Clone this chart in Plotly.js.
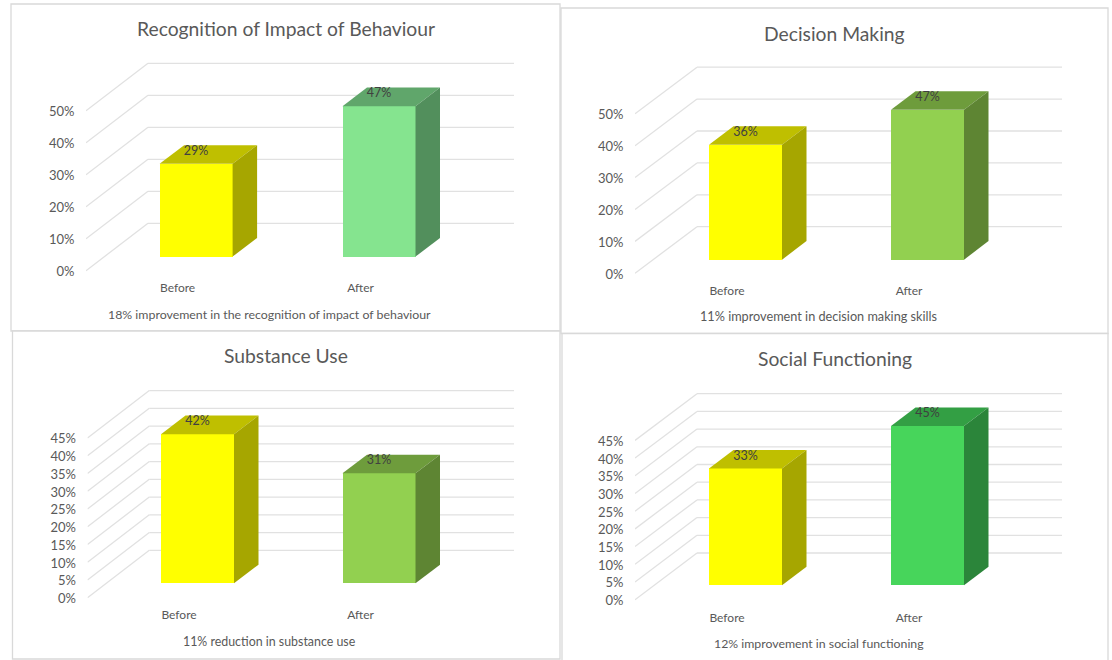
<!DOCTYPE html>
<html>
<head>
<meta charset="utf-8">
<script src="https://cdn.plot.ly/plotly-3.0.1.min.js"></script>
<style>html,body{margin:0;padding:0;background:#fff}#chart{width:1112px;height:660px}</style>
</head>
<body>
<div id="chart"></div>
<script>
const categories = ['Before', 'After'];
const recognitionValues = [29, 47];
const decisionValues = [36, 47];
const substanceValues = [42, 31];
const socialValues = [33, 45];
const ticksByTen = [0, 10, 20, 30, 40, 50];
const ticksByFive = [0, 5, 10, 15, 20, 25, 30, 35, 40, 45];
const titles = ['Recognition of Impact of Behaviour', 'Decision Making', 'Substance Use', 'Social Functioning'];
const captions = [
  '18% improvement in the recognition of impact of behaviour',
  '11% improvement in decision making skills',
  '11% reduction in substance use',
  '12% improvement in social functioning'
];

const W = 1112, H = 660;
const yellow = {front: '#FFFF00', top: '#BFBF00', side: '#A6A600'};
const mint = {front: '#85E48F', top: '#60A66B', side: '#528F5C'};
const leaf = {front: '#92D050', top: '#6E9C3C', side: '#5E8533'};
const emerald = {front: '#47D55B', top: '#339F44', side: '#2B853A'};

const panels = [
  {values: recognitionValues, ticks: ticksByTen, colors: [yellow, mint],
   frame: [11, 4, 560, 331], frontX: 86, backX: 148, endX: 514, frontY: 270.7, backY: 223.3, scale: 3.2,
   barLeft: [159.6, 342.5], barBottom: 256.6, labelY: 288, titleXY: [286, 28.5], capXY: [269, 314], capSize: 12.35},
  {values: decisionValues, ticks: ticksByTen, colors: [yellow, leaf],
   frame: [561, 8, 1108, 333.5], frontX: 635, backX: 697, endX: 1062, frontY: 273.3, backY: 226.7, scale: 3.19,
   barLeft: [709, 891], barBottom: 259.7, labelY: 291, titleXY: [834, 33], capXY: [818, 316.5], capSize: 12.7},
  {values: substanceValues, ticks: ticksByFive, colors: [yellow, leaf],
   frame: [12.5, 331, 560, 659], frontX: 87.5, backX: 149.3, endX: 514, frontY: 597.7, backY: 550.3, scale: 3.55,
   barLeft: [161, 342.5], barBottom: 583.3, labelY: 615, titleXY: [285.5, 355.5], capXY: [269.5, 641.5], capSize: 12.4},
  {values: socialValues, ticks: ticksByFive, colors: [yellow, emerald],
   frame: [562, 333.5, 1108, 664], frontX: 635, backX: 697, endX: 1062, frontY: 599.7, backY: 553, scale: 3.54,
   barLeft: [709, 891], barBottom: 585.3, labelY: 617.5, titleXY: [835, 358.5], capXY: [819, 643.5], capSize: 12.3}
];

const barWidthPx = 73, depthX = 24.5, depthY = 18.6, labelShiftX = 18.5, labelLift = 12, axisPad = 4;
const fontFamily = 'Lato, "Noto Sans", sans-serif';
const textGrey = '#595959', gridGrey = '#E1E1E1';

const traces = [], shapes = [], annotations = [];
const layout = {
  width: W, height: H, autosize: false, showlegend: false,
  margin: {l: 0, r: 0, t: 0, b: 0},
  paper_bgcolor: '#fff', plot_bgcolor: 'rgba(0,0,0,0)',
  font: {family: fontFamily, color: textGrey},
  bargap: 0, barmode: 'overlay', hovermode: false
};

panels.forEach((p, n) => {
  const id = n === 0 ? '' : String(n + 1);
  const xa = 'x' + id, ya = 'y' + id;
  const centers = p.barLeft.map(l => l + barWidthPx / 2);
  const unit = centers[1] - centers[0];
  const toX = px => (px - centers[0]) / unit;
  const toY = px => (p.barBottom - px) / p.scale;
  const topPx = p.backY - p.scale * p.ticks[p.ticks.length - 1] - 2;
  const bottomPx = p.frontY + axisPad;
  const vFront = toY(p.frontY), vBack = toY(p.backY);
  const dx = depthX / unit, dy = depthY / p.scale, half = barWidthPx / unit / 2;

  layout['xaxis' + id] = {
    domain: [p.frontX / W, p.endX / W], range: [toX(p.frontX), toX(p.endX)],
    anchor: ya, showgrid: false, zeroline: false, showline: false,
    tickmode: 'array', tickvals: categories.map((c, i) => i - labelShiftX / unit), ticktext: categories,
    ticks: 'outside', ticklen: p.labelY - bottomPx - 11, tickcolor: 'rgba(0,0,0,0)',
    tickfont: {family: fontFamily, size: 12, color: textGrey}, fixedrange: true
  };
  layout['yaxis' + id] = {
    domain: [1 - bottomPx / H, 1 - topPx / H], range: [toY(bottomPx), toY(topPx)],
    anchor: xa, showgrid: false, zeroline: false, showline: false,
    tickmode: 'array', tickvals: p.ticks.map(t => t + vFront - 0.25), ticktext: p.ticks.map(t => t + '%'),
    ticks: 'outside', ticklen: 8, tickcolor: 'rgba(0,0,0,0)',
    tickfont: {family: fontFamily, size: 13, color: textGrey}, fixedrange: true
  };

  p.ticks.forEach(t => {
    shapes.push({type: 'line', layer: 'below', xref: xa, yref: ya,
      x0: toX(p.backX), x1: toX(p.endX), y0: t + vBack, y1: t + vBack,
      line: {color: gridGrey, width: 1.3}});
    shapes.push({type: 'line', layer: 'below', xref: xa, yref: ya,
      x0: toX(p.frontX), x1: toX(p.backX), y0: t + vFront, y1: t + vBack,
      line: {color: gridGrey, width: 1.3}});
  });

  shapes.push({type: 'rect', layer: 'below', xref: 'paper', yref: 'paper',
    x0: p.frame[0] / W, x1: p.frame[2] / W, y0: 1 - p.frame[3] / H, y1: 1 - p.frame[1] / H,
    line: {color: '#D9D9D9', width: 1.3}, fillcolor: '#FFFFFF'});

  traces.push({type: 'bar', x: [0, 1], y: p.values, width: barWidthPx / unit, xaxis: xa, yaxis: ya,
    marker: {color: p.colors.map(c => c.front), line: {width: 0}}, hoverinfo: 'skip'});

  p.values.forEach((v, i) => {
    const l = i - half, r = i + half;
    traces.push({type: 'scatter', mode: 'lines', fill: 'toself', xaxis: xa, yaxis: ya,
      x: [l, r, r + dx, l + dx, l], y: [v, v, v + dy, v + dy, v],
      fillcolor: p.colors[i].top, line: {width: 0, color: p.colors[i].top}, hoverinfo: 'skip'});
    traces.push({type: 'scatter', mode: 'lines', fill: 'toself', xaxis: xa, yaxis: ya,
      x: [r, r + dx, r + dx, r, r], y: [0, dy, v + dy, v, 0],
      fillcolor: p.colors[i].side, line: {width: 0, color: p.colors[i].side}, hoverinfo: 'skip'});
  });

  traces.push({type: 'scatter', mode: 'text', xaxis: xa, yaxis: ya, x: [0, 1],
    y: p.values.map(v => v + labelLift / p.scale), text: p.values.map(v => v + '%'),
    textposition: 'middle center', cliponaxis: false,
    textfont: {family: fontFamily, size: 12.5, color: '#404040'}, hoverinfo: 'skip'});

  annotations.push({xref: 'paper', yref: 'paper', x: p.titleXY[0] / W, y: 1 - p.titleXY[1] / H,
    xanchor: 'center', yanchor: 'middle', showarrow: false, text: titles[n],
    font: {family: fontFamily, size: 19.3, color: textGrey}});
  annotations.push({xref: 'paper', yref: 'paper', x: p.capXY[0] / W, y: 1 - p.capXY[1] / H,
    xanchor: 'center', yanchor: 'middle', showarrow: false, text: captions[n],
    font: {family: fontFamily, size: p.capSize, color: textGrey}});
});

layout.shapes = shapes;
layout.annotations = annotations;
Plotly.newPlot('chart', traces, layout, {displayModeBar: false, staticPlot: true});
</script>
</body>
</html>
